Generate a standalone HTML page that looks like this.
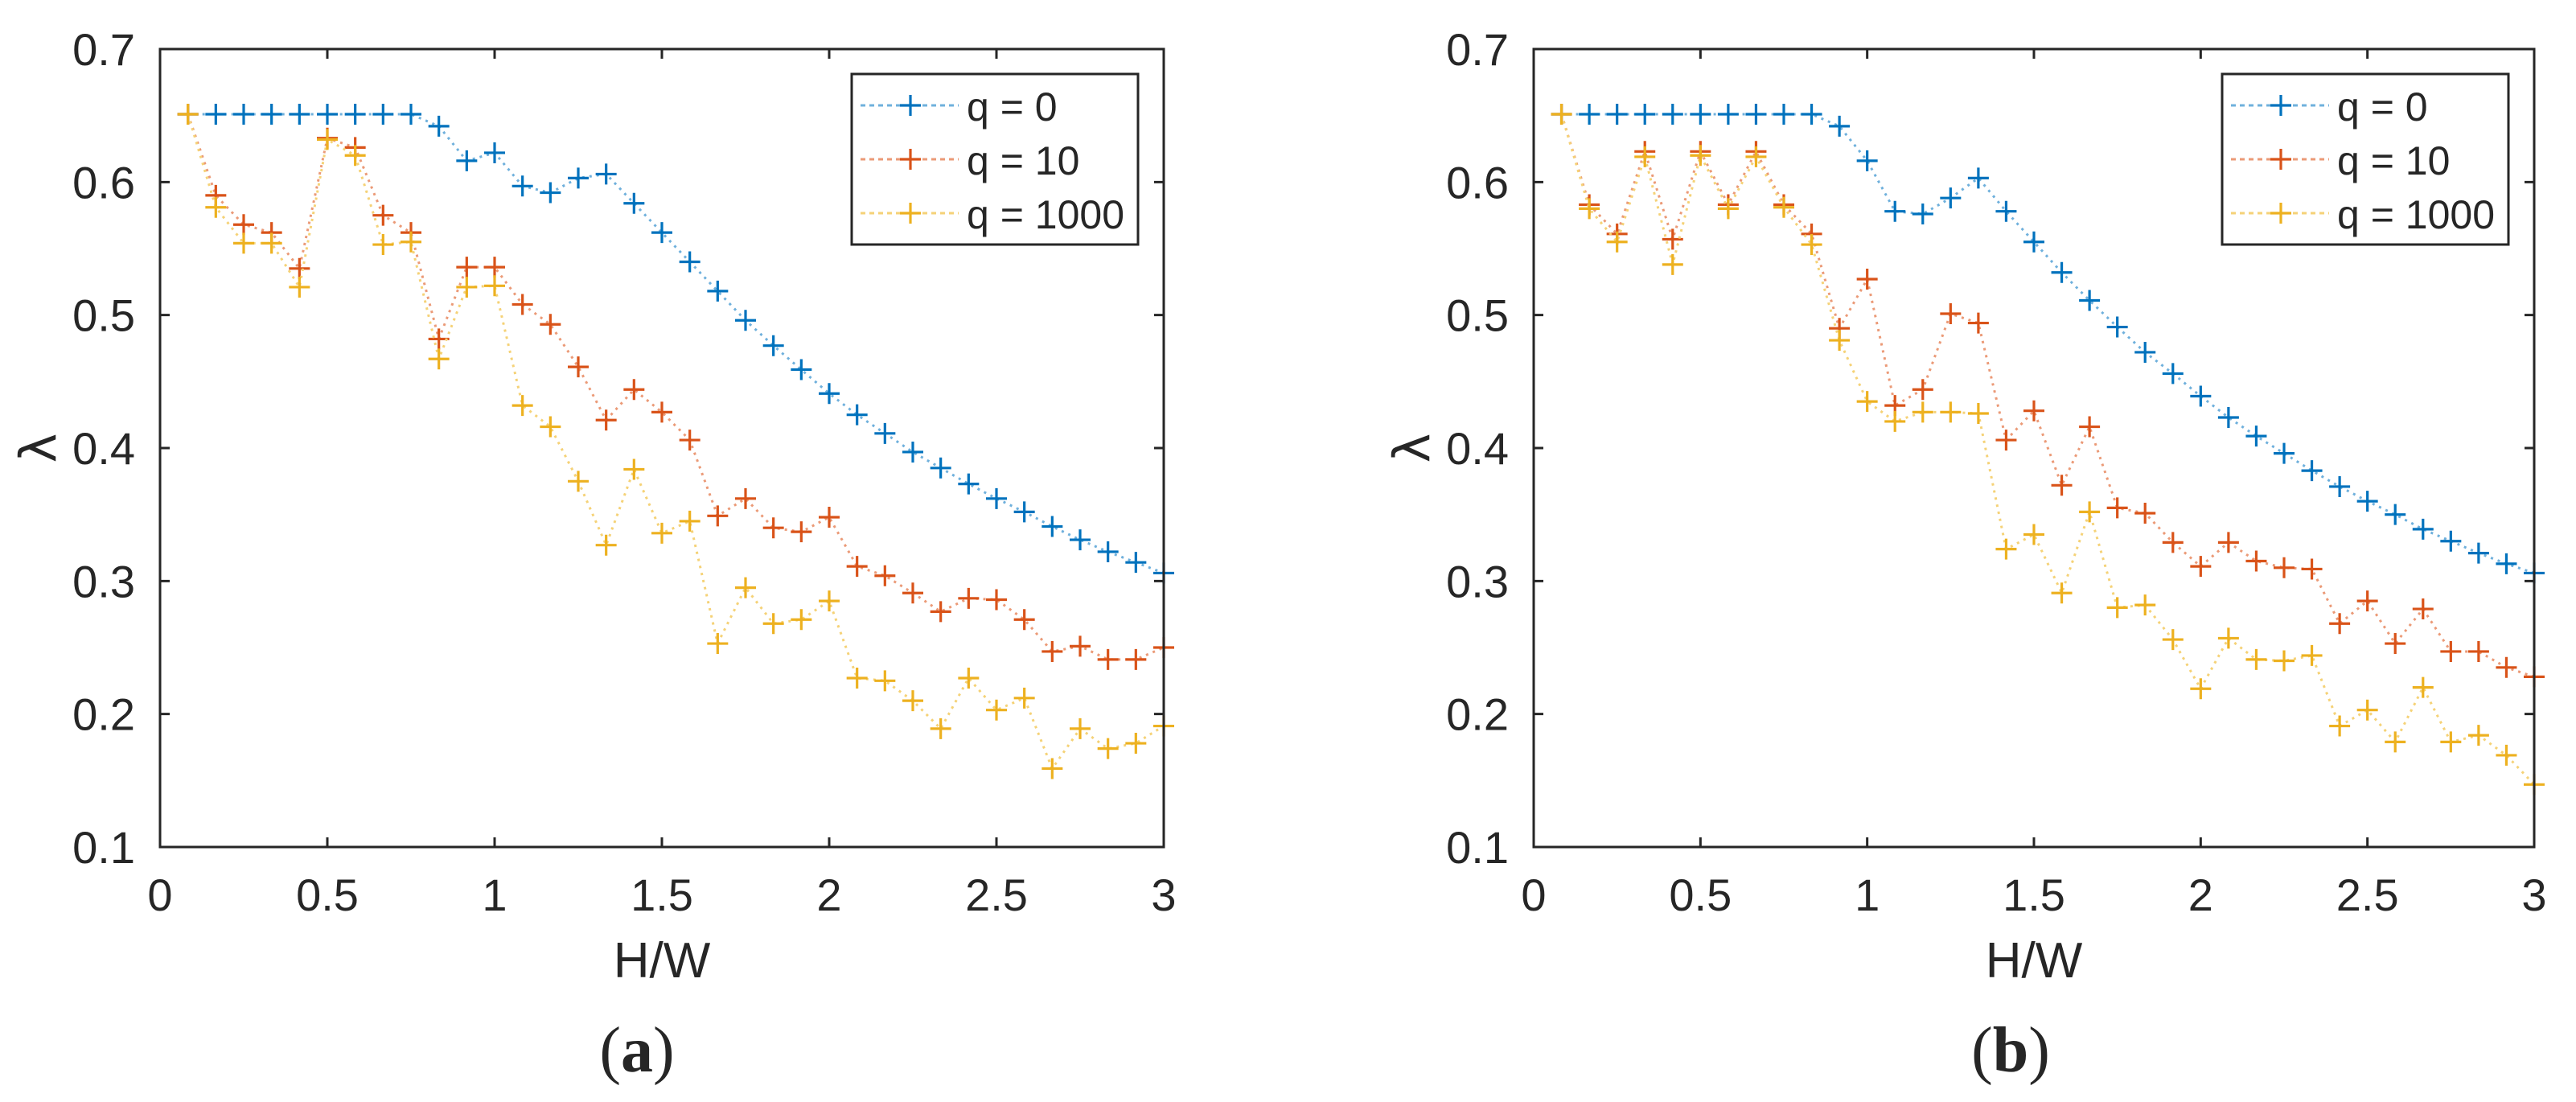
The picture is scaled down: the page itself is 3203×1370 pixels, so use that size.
<!DOCTYPE html>
<html><head><meta charset="utf-8">
<style>
html,body{margin:0;padding:0;background:#fff;}
svg{display:block;}
text{font-family:"Liberation Sans",sans-serif;fill:#262626;}
</style></head>
<body>
<svg id="fig" width="3203" height="1370" viewBox="0 0 3203 1370" xmlns="http://www.w3.org/2000/svg"></svg>
<script>
const xTicks = [0, 0.5, 1, 1.5, 2, 2.5, 3];
const xTickLabels = ["0", "0.5", "1", "1.5", "2", "2.5", "3"];
const yTicks = [0.1, 0.2, 0.3, 0.4, 0.5, 0.6, 0.7];
const yTickLabels = ["0.1", "0.2", "0.3", "0.4", "0.5", "0.6", "0.7"];
const hw = [1,2,3,4,5,6,7,8,9,10,11,12,13,14,15,16,17,18,19,20,21,22,23,24,25,26,27,28,29,30,31,32,33,34,35,36].map(k => k / 12);
const seriesNames = ["q = 0", "q = 10", "q = 1000"];
const aQ0 = [0.651,0.651,0.651,0.651,0.651,0.651,0.651,0.651,0.651,0.642,0.616,0.622,0.597,0.592,0.603,0.606,0.584,0.562,0.540,0.518,0.496,0.477,0.459,0.441,0.425,0.411,0.397,0.385,0.373,0.362,0.352,0.341,0.331,0.322,0.314,0.306];
const aQ10 = [0.651,0.590,0.568,0.562,0.535,0.633,0.626,0.575,0.562,0.482,0.536,0.536,0.508,0.493,0.461,0.421,0.444,0.427,0.406,0.349,0.362,0.340,0.337,0.348,0.311,0.304,0.291,0.277,0.287,0.286,0.271,0.247,0.251,0.241,0.241,0.250];
const aQ1000 = [0.651,0.581,0.554,0.554,0.521,0.632,0.620,0.553,0.555,0.467,0.521,0.522,0.432,0.416,0.375,0.327,0.384,0.336,0.345,0.253,0.295,0.268,0.271,0.285,0.227,0.225,0.210,0.189,0.227,0.203,0.212,0.159,0.189,0.174,0.178,0.191];
const bQ0 = [0.651,0.651,0.651,0.651,0.651,0.651,0.651,0.651,0.651,0.651,0.642,0.616,0.578,0.576,0.588,0.603,0.578,0.555,0.532,0.511,0.491,0.472,0.456,0.439,0.423,0.409,0.396,0.383,0.371,0.360,0.350,0.339,0.330,0.321,0.313,0.306];
const bQ10 = [0.651,0.583,0.561,0.623,0.557,0.623,0.583,0.623,0.583,0.561,0.490,0.527,0.432,0.444,0.501,0.494,0.406,0.428,0.372,0.416,0.355,0.351,0.329,0.311,0.329,0.315,0.310,0.309,0.268,0.285,0.253,0.279,0.247,0.247,0.235,0.228];
const bQ1000 = [0.651,0.580,0.555,0.619,0.538,0.620,0.580,0.619,0.581,0.553,0.481,0.435,0.420,0.427,0.427,0.426,0.324,0.335,0.291,0.352,0.280,0.282,0.256,0.219,0.257,0.241,0.240,0.244,0.191,0.203,0.179,0.220,0.179,0.184,0.169,0.147];

const NS = "http://www.w3.org/2000/svg";
const svg = document.getElementById("fig");
const colors = ["#0072BD", "#D95319", "#EDB120"];
const lineColors = ["#6fb0dc", "#eb9a77", "#f5d277"];

function mk(tag, attrs, parent) {
  const e = document.createElementNS(NS, tag);
  for (const k in attrs) e.setAttribute(k, attrs[k]);
  (parent || svg).appendChild(e);
  return e;
}

function drawPanel(id, x0, x1, letter, data) {
  const y0 = 1053, y1 = 61;
  const sx = v => x0 + (v - 0) / 3 * (x1 - x0);
  const sy = v => y0 - (v - 0.1) / 0.6 * (y0 - y1);
  const g = mk("g", {});
  
  
  data.forEach((vals, si) => {
    const pts = vals.map((v, i) => sx(hw[i]).toFixed(1) + "," + sy(v).toFixed(1)).join(" ");
    const line = mk("polyline", {points: pts, fill: "none", stroke: lineColors[si], "stroke-width": 3, "stroke-dasharray": "3 6"}, g);
    
    
    vals.forEach((v, i) => {
      const cx = sx(hw[i]), cy = sy(v);
      const m = mk("path", {d: `M${cx-13},${cy}H${cx+13}M${cx},${cy-13}V${cy+13}`, stroke: colors[si], "stroke-width": 3.2, fill: "none"}, g);
      
      
    });
  });
  const box = mk("rect", {x: x0, y: y1, width: x1 - x0, height: y0 - y1, fill: "none", stroke: "#262626", "stroke-width": 3}, g);
  
  
  xTicks.forEach((t, i) => {
    const x = sx(t);
    mk("path", {d: `M${x},${y0}V${y0-12}M${x},${y1}V${y1+12}`, stroke: "#262626", "stroke-width": 3}, g);
    const tx = mk("text", {x: x, y: 1132, "font-size": 56, "text-anchor": "middle"}, g);
    tx.textContent = xTickLabels[i];
    
    
  });
  yTicks.forEach((t, i) => {
    const y = sy(t);
    mk("path", {d: `M${x0},${y}H${x0+12}M${x1},${y}H${x1-12}`, stroke: "#262626", "stroke-width": 3}, g);
    const ty = mk("text", {x: x0 - 31, y: y + 20, "font-size": 56, "text-anchor": "end"}, g);
    ty.textContent = yTickLabels[i];
    
    
  });
  const xl = mk("text", {x: (x0 + x1) / 2, y: 1215, "font-size": 62, "text-anchor": "middle"}, g);
  xl.textContent = "H/W";
  
  
  const yl = mk("text", {x: 0, y: 0, "font-size": 62, "text-anchor": "middle", transform: `translate(${x0-130},${sy(0.4)}) rotate(-90)`, style: "font-family:'DejaVu Sans',sans-serif"}, g);
  yl.textContent = "λ";
  
  
  const cap = mk("text", {x: x0 + 593, y: 1332, "font-size": 80, "text-anchor": "middle", style: "font-family:'Liberation Serif',serif"}, g);
  cap.innerHTML = '(<tspan font-weight="bold">' + letter + '</tspan>)';
  
  
  const lx = x1 - 388, ly = 92;
  const lg = mk("g", {}, g);
  
  
  mk("rect", {x: lx, y: ly, width: 356, height: 212, fill: "#fff", stroke: "#262626", "stroke-width": 3}, lg);
  seriesNames.forEach((n, si) => {
    const ry = 131 + si * 67;
    const ent = mk("g", {}, lg);
    
    
    mk("line", {x1: lx + 11, x2: lx + 133, y1: ry, y2: ry, stroke: lineColors[si], "stroke-width": 3, "stroke-dasharray": "6 5"}, ent);
    mk("path", {d: `M${lx+60},${ry}H${lx+86}M${lx+73},${ry-13}V${ry+13}`, stroke: colors[si], "stroke-width": 3.2}, ent);
    const t = mk("text", {x: lx + 143, y: ry + 19, "font-size": 50}, ent);
    t.textContent = n;
  });
}

drawPanel("a", 199, 1447, "a", [aQ0, aQ10, aQ1000]);
drawPanel("b", 1907, 3151, "b", [bQ0, bQ10, bQ1000]);
</script>
</body></html>
